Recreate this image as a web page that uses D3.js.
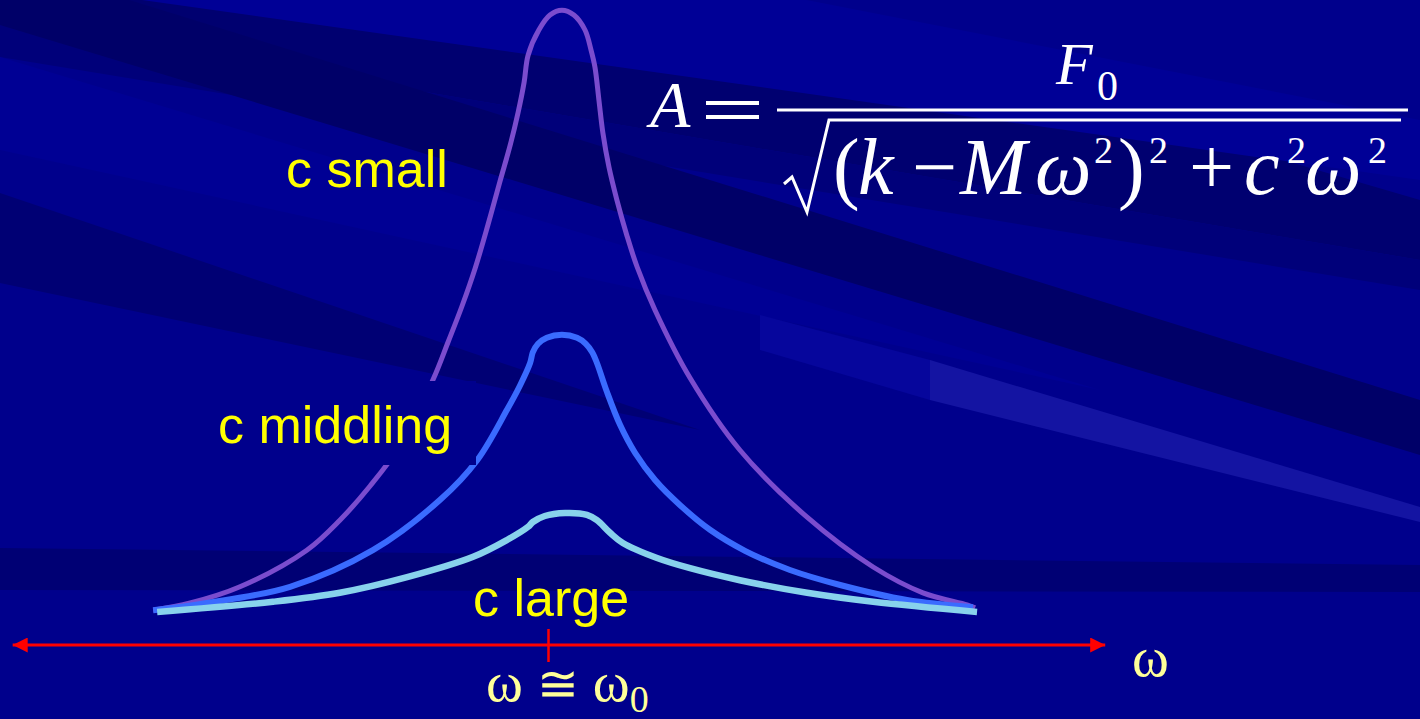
<!DOCTYPE html>
<html>
<head>
<meta charset="utf-8">
<script src="https://cdn.jsdelivr.net/npm/d3@7"></script>
<style>
  html, body { margin: 0; padding: 0; background: #00008c; overflow: hidden; }
  svg { display: block; }
</style>
</head>
<body>
<svg id="chart" width="1420" height="719"></svg>
<script>
// Driving frequency (ω / ω0) and steady-state amplitude for three damping levels
const omegaSmall = [0.008, 0.101, 0.226, 0.394, 0.477, 0.553, 0.628, 0.711, 0.749, 0.784, 0.817, 0.849, 0.879, 0.905, 0.925, 0.940, 0.950, 0.977, 1.005, 1.035, 1.065, 1.093, 1.108, 1.118, 1.128, 1.138, 1.153, 1.173, 1.198, 1.224, 1.269, 1.357, 1.482, 1.651, 1.817, 1.942, 2.053, 2.073];
const ampSmall   = [0.03, 0.15, 0.42, 1.03, 1.53, 2.10, 2.77, 3.87, 4.50, 5.10, 5.73, 6.45, 7.17, 7.78, 8.33, 8.83, 9.28, 9.70, 9.95, 10.03, 9.95, 9.70, 9.37, 9.08, 8.53, 7.98, 7.42, 6.87, 6.28, 5.75, 5.03, 3.90, 2.70, 1.58, 0.75, 0.32, 0.12, 0.07];

const omegaMid = [0.008, 0.143, 0.352, 0.560, 0.729, 0.822, 0.897, 0.930, 0.955, 0.962, 0.975, 0.997, 1.035, 1.073, 1.095, 1.111, 1.123, 1.148, 1.181, 1.219, 1.269, 1.332, 1.407, 1.495, 1.608, 1.734, 1.902, 2.068];
const ampMid   = [0.03, 0.15, 0.42, 1.03, 1.87, 2.53, 3.37, 3.78, 4.15, 4.33, 4.47, 4.57, 4.62, 4.57, 4.47, 4.33, 4.15, 3.67, 3.12, 2.65, 2.20, 1.78, 1.37, 1.02, 0.70, 0.45, 0.20, 0.08];

const omegaLarge = [0.018, 0.309, 0.477, 0.646, 0.812, 0.897, 0.950, 0.962, 0.992, 1.043, 1.098, 1.123, 1.156, 1.188, 1.274, 1.357, 1.482, 1.651, 1.817, 2.078];
const ampLarge   = [0.00, 0.17, 0.32, 0.58, 0.92, 1.20, 1.42, 1.50, 1.60, 1.65, 1.62, 1.53, 1.32, 1.15, 0.90, 0.73, 0.53, 0.32, 0.17, 0.00];

const seriesNames  = ["c small", "c middling", "c large"];
const seriesColors = ["#7b4cce", "#3a6bff", "#88d2ec"];

// Resonance tick and frequency-axis extent
const omega0 = 1;
const axisExtent = [-0.345, 2.4];
const axisLevel = -0.55;

const svg = d3.select("#chart");
const W = 1420, H = 719;

const x = d3.scaleLinear().domain([0, 2]).range([150, 946]);
const y = d3.scaleLinear().domain([0, 10]).range([612, 12]);

// ---- background: slide-style diagonal streaks ----
const bgColor = "#00008c";
const bg = svg.append("g");
bg.append("rect").attr("width", W).attr("height", H).attr("fill", bgColor);
const streaks = [
  { pts: [[0,-10],[700,-10],[1420,200],[1420,260],[0,20]], fill: "#000070" },
  { pts: [[0,20],[1420,260],[1420,290],[0,57]], fill: "#00007a" },
  { pts: [[0,-40],[1420,400],[1420,455],[0,25]], fill: "#000068" },
  { pts: [[0,57],[1100,390],[0,150]], fill: "#000094" },
  { pts: [[0,193],[700,430],[0,283]], fill: "#000074" },
  { pts: [[0,-60],[500,-60],[1420,120],[1420,180],[0,-20]], fill: "#000096" },
  { pts: [[930,360],[1420,507],[1420,522],[930,400]], fill: "#1414a2" },
  { pts: [[760,315],[930,360],[930,400],[760,350]], fill: "#06069c" },
  { pts: [[0,548],[1420,565],[1420,592],[0,590]], fill: "#000074" }
];
bg.selectAll("polygon").data(streaks).join("polygon")
  .attr("points", d => d.pts.map(p => p.join(",")).join(" "))
  .attr("fill", d => d.fill);

// ---- response curves ----
const line = d3.line()
  .x(d => x(d[0]))
  .y(d => y(d[1]))
  .curve(d3.curveCatmullRom.alpha(0.5));

const series = [
  { name: seriesNames[0], pts: d3.zip(omegaSmall, ampSmall), color: seriesColors[0], width: 5 },
  { name: seriesNames[1], pts: d3.zip(omegaMid, ampMid), color: seriesColors[1], width: 6 },
  { name: seriesNames[2], pts: d3.zip(omegaLarge, ampLarge), color: seriesColors[2], width: 6.5 }
];

svg.append("g").selectAll("path").data(series).join("path")
  .attr("d", d => line(d.pts))
  .attr("fill", "none")
  .attr("stroke", d => d.color)
  .attr("stroke-width", d => d.width)
  .attr("stroke-linecap", "butt")
  .attr("stroke-linejoin", "round");

// ---- labels ----
const labelFont = "'Liberation Sans', Arial, sans-serif";
const labels = svg.append("g");
// the middle label sits on a plain panel that hides the curve behind it
labels.append("rect")
  .attr("x", 200).attr("y", 381).attr("width", 276).attr("height", 84)
  .attr("fill", bgColor);
const labelPos = [
  { text: seriesNames[0], x: 286, y: 187 },
  { text: seriesNames[1], x: 218, y: 443 },
  { text: seriesNames[2], x: 473, y: 616 }
];
labels.selectAll("text").data(labelPos).join("text")
  .attr("x", d => d.x).attr("y", d => d.y)
  .attr("fill", "#ffff00")
  .attr("font-family", labelFont)
  .attr("font-size", 52)
  .text(d => d.text);

// ---- frequency axis ----
const defs = svg.append("defs");
["start", "end"].forEach(k => {
  defs.append("marker")
    .attr("id", "arrow-" + k)
    .attr("viewBox", "0 0 10 10")
    .attr("refX", k === "end" ? 10 : 0).attr("refY", 5)
    .attr("markerWidth", 16).attr("markerHeight", 15)
    .attr("markerUnits", "userSpaceOnUse")
    .attr("orient", "auto")
    .append("path")
    .attr("d", k === "end" ? "M0,0 L10,5 L0,10 Z" : "M10,0 L0,5 L10,10 Z")
    .attr("fill", "#ff0000");
});

const axisY = y(axisLevel);
svg.append("line")
  .attr("x1", x(axisExtent[0])).attr("x2", x(axisExtent[1]))
  .attr("y1", axisY).attr("y2", axisY)
  .attr("stroke", "#ff0000").attr("stroke-width", 3)
  .attr("marker-start", "url(#arrow-start)")
  .attr("marker-end", "url(#arrow-end)");

const axis = d3.axisBottom(x).tickValues([omega0]).tickSize(17).tickFormat(() => "");
const axisG = svg.append("g").attr("transform", `translate(0,${axisY})`).call(axis);
axisG.select(".domain").remove();
axisG.selectAll(".tick line")
  .attr("y1", -16).attr("stroke", "#ff0000").attr("stroke-width", 2.5);

const serif = "'Liberation Serif', 'Times New Roman', serif";
svg.append("text")
  .attr("x", 1132).attr("y", 676)
  .attr("fill", "#ffff99").attr("font-family", serif).attr("font-size", 56)
  .text("ω");

const res = svg.append("text")
  .attr("x", x(omega0) - 62).attr("y", 701)
  .attr("fill", "#ffff99").attr("font-family", serif).attr("font-size", 56);
res.append("tspan").text("ω");
res.append("tspan").attr("dx", 14).attr("font-size", 50).attr("font-family", "'DejaVu Serif', serif").text("≅");
res.append("tspan").attr("dx", 14).text("ω");
res.append("tspan").attr("dy", 11).attr("font-size", 38).text("0");

// ---- amplitude formula, set glyph by glyph ----
const formulaGlyphs = [
  { t: "A", x: 650, y: 127, s: 66, i: true },
  { t: "F", x: 1056, y: 84, s: 60, i: true },
  { t: "0", x: 1097, y: 100, s: 42, i: false },
  { t: "(", x: 833, y: 194, s: 80, i: false },
  { t: "k", x: 858, y: 194, s: 80, i: true },
  { t: "−", x: 912, y: 194, s: 80, i: false },
  { t: "M", x: 960, y: 194, s: 80, i: true },
  { t: "ω", x: 1035, y: 194, s: 80, i: true },
  { t: "2", x: 1094, y: 163, s: 38, i: false },
  { t: ")", x: 1118, y: 194, s: 80, i: false },
  { t: "2", x: 1149, y: 163, s: 38, i: false },
  { t: "+", x: 1189, y: 194, s: 80, i: false },
  { t: "c", x: 1244, y: 194, s: 80, i: true },
  { t: "2", x: 1287, y: 163, s: 38, i: false },
  { t: "ω", x: 1305, y: 194, s: 80, i: true },
  { t: "2", x: 1368, y: 163, s: 38, i: false }
];
const f = svg.append("g").attr("fill", "#ffffff").attr("font-family", serif);
f.selectAll("text").data(formulaGlyphs).join("text")
  .attr("x", d => d.x).attr("y", d => d.y)
  .attr("font-size", d => d.s)
  .attr("font-style", d => d.i ? "italic" : "normal")
  .text(d => d.t);
// equals sign, fraction bar and radical drawn as strokes
f.append("path")
  .attr("d", "M706,103 L759,103 M706,117 L759,117")
  .attr("stroke", "#ffffff").attr("stroke-width", 4);
f.append("line").attr("x1", 777).attr("x2", 1408).attr("y1", 110).attr("y2", 110)
  .attr("stroke", "#ffffff").attr("stroke-width", 3);
f.append("path")
  .attr("d", "M784,184 L792,177 L807,212 L829,120 L1401,120")
  .attr("fill", "none").attr("stroke", "#ffffff").attr("stroke-width", 3)
  .attr("stroke-linejoin", "miter");
</script>
</body>
</html>
